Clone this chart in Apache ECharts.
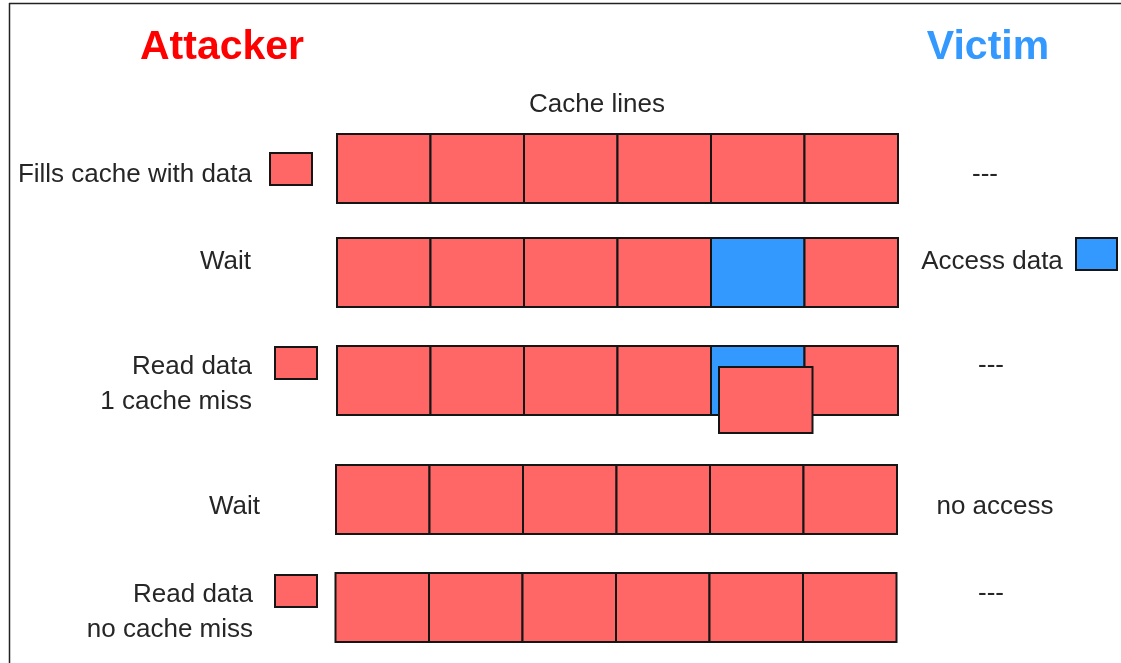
<!DOCTYPE html>
<html>
<head>
    <meta charset="utf-8">
    <title>Cache attack</title>
    <script src="https://cdn.jsdelivr.net/npm/echarts@6/dist/echarts.min.js"></script>
    <style>
        html, body { margin: 0; padding: 0; background: #fff; }
        #chart1 { width: 1121px; height: 663px; }
    </style>
</head>
<body>
<div id="chart1"></div>
<script type="text/javascript">
    // 数据
    var cacheLineCount = 6;
    var attackerSteps = ['Fills cache with data', 'Wait', 'Read data\n1 cache miss', 'Wait', 'Read data\nno cache miss'];
    var victimSteps = ['---', 'Access data', '---', 'no access', '---'];
    // 每一行里每条 cache line 的占有者: 0 = attacker, 1 = victim
    var lineOwner = [
        [0, 0, 0, 0, 0, 0],
        [0, 0, 0, 0, 1, 0],
        [0, 0, 0, 0, 1, 0],
        [0, 0, 0, 0, 0, 0],
        [0, 0, 0, 0, 0, 0]
    ];
    var attackerSwatch = [1, 0, 1, 0, 1];
    var victimSwatch = [0, 1, 0, 0, 0];
    var missLine = [-1, -1, 4, -1, -1];

    // 布局 (坐标轴单位 = 像素)
    var rowTop = [134, 238, 346, 465, 573];
    var rowLeft = [337, 337, 337, 336, 335.5];
    var rowH = 69, lineW = 93.5;
    var labelRight = [252, 251, 252, 260, 253];
    var labelY = [175, 262, 384, 507, 612];
    var victimX = [985, 992, 991, 995, 991];
    var victimY = [175, 262, 366, 507, 594];
    var attackerSwatchPos = [[270, 153], null, [275, 347], null, [275, 575]];
    var victimSwatchPos = [null, [1076, 238], null, null, null];

    var RED = '#ff6666', BLUE = '#3399ff', EDGE = '#151515', INK = '#262626';
    var FONT = '"Liberation Sans", Arial, sans-serif';

    var cellData = [];
    lineOwner.forEach(function (row, r) {
        row.forEach(function (owner, i) { cellData.push([i, r, owner]); });
    });
    var missData = [];
    missLine.forEach(function (i, r) { if (i >= 0) missData.push([i, r]); });
    var rowData = attackerSteps.map(function (s, r) { return [r]; });

    function box(x, y, w, h, fill, api) {
        var p = api.coord([x, y]);
        var s = api.size([w, h]);
        return {
            type: 'rect',
            shape: { x: p[0], y: p[1], width: s[0], height: s[1] },
            style: { fill: fill, stroke: EDGE, lineWidth: 2 }
        };
    }

    function renderCell(params, api) {
        var i = api.value(0), r = api.value(1), owner = api.value(2);
        return box(rowLeft[r] + i * lineW, rowTop[r], lineW, rowH, owner ? BLUE : RED, api);
    }

    function renderMiss(params, api) {
        var i = api.value(0), r = api.value(1);
        return box(rowLeft[r] + i * lineW + 8, rowTop[r] + 21, lineW, 66, RED, api);
    }

    function renderRow(params, api) {
        var r = api.value(0);
        var children = [];
        var lp = api.coord([labelRight[r], labelY[r]]);
        children.push({
            type: 'text',
            style: {
                x: lp[0], y: lp[1], text: attackerSteps[r], fill: INK,
                font: '26px ' + FONT, align: 'right', verticalAlign: 'middle', lineHeight: 35
            }
        });
        var vp = api.coord([victimX[r], victimY[r]]);
        children.push({
            type: 'text',
            style: {
                x: vp[0], y: vp[1], text: victimSteps[r], fill: INK,
                font: '26px ' + FONT, align: 'center', verticalAlign: 'middle'
            }
        });
        if (attackerSwatch[r]) {
            children.push(box(attackerSwatchPos[r][0], attackerSwatchPos[r][1], 42, 32, RED, api));
        }
        if (victimSwatch[r]) {
            children.push(box(victimSwatchPos[r][0], victimSwatchPos[r][1], 41, 32, BLUE, api));
        }
        return { type: 'group', children: children };
    }

    var myChart1 = echarts.init(document.getElementById('chart1'));
    myChart1.setOption({
        animation: false,
        backgroundColor: '#fff',
        grid: { left: 0, right: 0, top: 0, bottom: 0 },
        xAxis: { type: 'value', min: 0, max: 1121, show: false },
        yAxis: { type: 'value', min: 0, max: 663, inverse: true, show: false },
        graphic: [
            { type: 'line', shape: { x1: 9, y1: 3.5, x2: 1121, y2: 3.5 }, style: { stroke: '#222', lineWidth: 1.5 } },
            { type: 'line', shape: { x1: 9.5, y1: 3, x2: 9.5, y2: 663 }, style: { stroke: '#222', lineWidth: 1.5 } },
            { type: 'text', x: 222, y: 48, style: { text: 'Attacker', fill: '#ff0000', font: 'bold 41px ' + FONT, align: 'center', verticalAlign: 'middle' } },
            { type: 'text', x: 988, y: 48, style: { text: 'Victim', fill: BLUE, font: 'bold 41px ' + FONT, align: 'center', verticalAlign: 'middle' } },
            { type: 'text', x: 597, y: 105, style: { text: 'Cache lines', fill: INK, font: '26px ' + FONT, align: 'center', verticalAlign: 'middle' } }
        ],
        series: [
            { type: 'custom', renderItem: renderCell, data: cellData, z: 2 },
            { type: 'custom', renderItem: renderMiss, data: missData, z: 3 },
            { type: 'custom', renderItem: renderRow, data: rowData, z: 4 }
        ]
    });
</script>
</body>
</html>
